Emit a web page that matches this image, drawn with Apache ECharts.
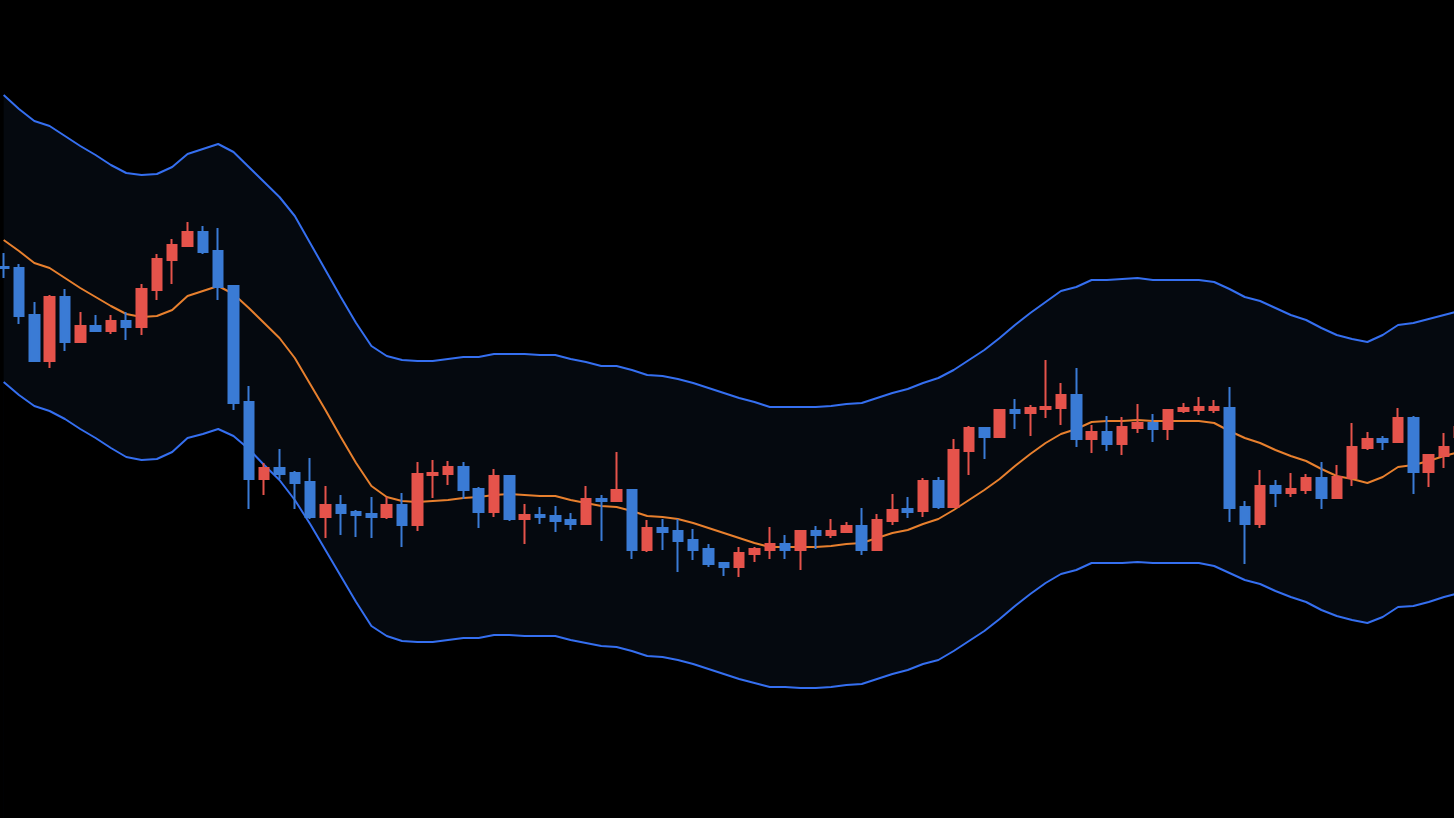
<!DOCTYPE html>
<html>
<head>
<meta charset="utf-8">
<script src="https://cdn.jsdelivr.net/npm/echarts@6/dist/echarts.min.js"></script>
<style>
html,body{margin:0;padding:0;background:#000;overflow:hidden;width:1454px;height:818px;}
#chart{position:absolute;left:-3.66px;top:0;width:1471px;height:818px;}
</style>
</head>
<body>
<div id="chart"></div>
<script>
// Candles: [open, close, low, high]
const candles = [
[55.1,55.0,54.0,56.5],[55.0,50.2,49.4,55.4],[50.3,45.7,45.7,51.6],[45.7,52.1,45.0,52.3],
[52.1,47.6,46.7,52.9],[47.6,49.2,47.6,50.6],[49.2,48.7,48.6,50.3],[48.7,49.7,48.4,50.3],
[49.7,49.1,47.8,50.6],[49.1,52.9,48.3,53.4],[52.8,55.9,51.8,56.4],[55.8,57.3,53.4,57.9],
[57.2,58.6,57.2,59.6],[58.6,56.6,56.4,59.2],[56.7,53.1,51.8,59.0],[53.2,41.5,40.8,53.3],
[41.6,33.9,30.9,43.2],[33.9,35.0,32.3,35.5],[35.0,34.4,33.9,36.9],[34.5,33.5,30.9,34.7],
[33.6,30.1,29.9,36.0],[30.1,31.3,28.0,33.2],[31.3,30.5,28.3,32.3],[30.6,30.3,28.1,30.8],
[30.4,30.1,28.0,32.1],[30.1,31.3,29.9,32.1],[31.3,29.3,27.1,32.5],[29.3,34.4,28.7,35.6],
[34.3,34.5,32.0,35.8],[34.4,35.1,33.3,35.7],[35.1,32.8,31.9,35.6],[32.9,30.6,29.0,33.1],
[30.6,34.2,30.1,34.9],[34.2,29.9,29.7,34.2],[29.9,30.3,27.4,31.4],[30.3,30.1,29.4,31.1],
[30.2,29.7,28.6,31.2],[29.8,29.4,28.8,30.5],[29.4,31.9,29.3,33.2],[31.9,31.7,27.7,32.3],
[31.7,32.8,31.6,36.6],[32.8,26.8,25.9,32.8],[26.8,29.0,26.6,29.8],[29.0,28.6,26.8,29.9],
[28.7,27.7,24.6,29.9],[27.8,26.8,25.8,28.9],[26.9,25.4,25.1,27.4],[25.5,25.1,24.2,25.5],
[25.1,26.5,24.1,27.1],[26.4,26.9,25.6,27.1],[26.8,27.4,25.9,29.1],[27.4,26.8,25.9,28.3],
[26.8,28.7,24.8,28.8],[28.7,28.3,26.9,29.2],[28.3,28.7,28.0,29.9],[28.6,29.2,28.5,29.6],
[29.2,26.8,26.3,31.0],[26.8,29.8,26.7,30.4],[29.7,30.8,29.3,32.4],[30.9,30.6,30.0,32.1],
[30.7,33.7,30.1,34.0],[33.7,31.1,30.9,34.1],[31.1,36.8,31.1,37.9],[36.7,39.0,34.3,39.2],
[39.0,38.1,35.9,39.0],[38.1,40.8,38.0,40.9],[40.8,40.5,38.9,41.9],[40.5,41.0,38.2,41.3],
[40.9,41.1,40.0,45.8],[41.0,42.3,39.3,43.5],[42.3,37.9,37.1,45.0],[37.9,38.6,36.5,39.3],
[38.6,37.4,36.7,40.2],[37.4,39.1,36.3,40.1],[39.0,39.5,38.5,41.4],[39.5,38.9,37.6,40.4],
[38.9,40.8,37.8,40.9],[40.7,41.0,40.5,41.5],[40.8,41.1,40.3,42.1],[40.8,41.1,40.5,41.8],
[41.0,31.0,29.6,43.1],[31.1,29.4,25.4,31.7],[29.4,33.2,29.0,34.8],[33.2,32.5,31.1,33.8],
[32.5,32.9,32.1,34.5],[32.8,34.0,32.4,34.4],[34.0,32.0,30.9,35.6],[32.0,34.1,32.0,35.3],
[34.0,37.1,33.2,39.5],[37.0,37.9,36.8,38.6],[37.9,37.6,36.8,38.2],[37.6,40.0,37.6,41.0],
[40.0,34.6,32.4,40.2],[34.6,36.3,33.1,36.3],[36.2,37.1,35.0,38.5],[38.1,39.1,37.8,39.8]
];
const upperBand = [72.3,70.9,69.7,69.2,68.2,67.2,66.3,65.3,64.5,64.3,64.4,65.1,66.4,66.9,67.4,66.6,
65.1,63.6,62.1,60.2,57.5,54.8,52.1,49.5,47.2,46.2,45.8,45.7,45.7,45.9,46.1,46.1,
46.4,46.4,46.4,46.3,46.3,45.9,45.6,45.2,45.2,44.8,44.3,44.2,43.9,43.5,43.0,42.5,
42.0,41.6,41.1,41.1,41.1,41.1,41.2,41.4,41.5,42.0,42.5,42.9,43.5,44.0,44.8,45.8,
46.8,48.0,49.3,50.5,51.6,52.7,53.1,53.8,53.8,53.9,54.0,53.8,53.8,53.8,53.8,53.6,
52.9,52.1,51.7,51.0,50.3,49.8,49.0,48.3,47.9,47.6,48.3,49.3,49.5,49.9,50.3,50.7];
const middleBand = [57.8,56.7,55.5,55.0,54.0,53.0,52.1,51.2,50.4,50.1,50.2,50.8,52.2,52.7,53.2,52.4,
51.0,49.5,48.0,46.0,43.4,40.8,38.1,35.5,33.2,32.1,31.7,31.6,31.7,31.8,32.0,32.1,
32.3,32.4,32.3,32.2,32.2,31.8,31.5,31.2,31.1,30.7,30.2,30.1,29.9,29.5,29.0,28.5,
28.0,27.5,27.1,27.1,27.1,27.1,27.2,27.4,27.5,28.0,28.5,28.8,29.4,29.9,30.8,31.8,
32.8,33.9,35.2,36.4,37.5,38.4,38.9,39.6,39.7,39.7,39.8,39.7,39.7,39.7,39.7,39.5,
38.7,38.0,37.5,36.8,36.2,35.7,34.9,34.2,33.9,33.5,34.1,35.1,35.3,35.7,36.2,36.6];
const lowerBand = [43.6,42.3,41.2,40.7,39.9,38.9,38.0,37.0,36.1,35.8,35.9,36.6,38.0,38.4,38.9,38.2,
36.9,35.3,33.8,31.8,29.4,26.8,24.2,21.6,19.2,18.2,17.7,17.6,17.6,17.8,18.0,18.0,
18.3,18.3,18.2,18.2,18.2,17.8,17.5,17.2,17.1,16.7,16.2,16.1,15.8,15.4,14.9,14.4,
13.9,13.5,13.1,13.1,13.0,13.0,13.1,13.3,13.4,13.9,14.4,14.8,15.4,15.8,16.7,17.7,
18.7,19.9,21.2,22.4,23.5,24.4,24.8,25.5,25.5,25.5,25.6,25.5,25.5,25.5,25.5,25.2,
24.5,23.8,23.4,22.7,22.1,21.6,20.8,20.2,19.8,19.5,20.1,21.1,21.2,21.6,22.1,22.5];
const categories = candles.map((_, i) => 'D' + (i + 1));

const UP = '#e5534b', DOWN = '#3a7bd5', BAND = '#356ff0', MID = '#e8802e';
const chart = echarts.init(document.getElementById('chart'), null, {renderer: 'canvas'});
chart.setOption({
  backgroundColor: '#000000',
  animation: false,
  grid: {left: 0, right: 0, top: 0, bottom: 0, containLabel: false},
  xAxis: {type: 'category', data: categories, boundaryGap: true, show: false},
  yAxis: {type: 'value', min: 0, max: 81.8, show: false, splitLine: {show: false}},
  series: [
    {name: 'Upper', type: 'line', data: upperBand, symbol: 'none', z: 1,
     lineStyle: {color: BAND, width: 2}, areaStyle: {color: '#05090f', origin: 'start', opacity: 1}},
    {name: 'Lower', type: 'line', data: lowerBand, symbol: 'none', z: 1,
     lineStyle: {color: BAND, width: 2}, areaStyle: {color: '#000000', origin: 'start', opacity: 1}},
    {name: 'Middle', type: 'line', data: middleBand, symbol: 'none', z: 2,
     lineStyle: {color: MID, width: 2}},
    {name: 'Price', type: 'candlestick', data: candles, z: 5, barWidth: 10,
     itemStyle: {color: UP, color0: DOWN, borderColor: UP, borderColor0: DOWN, borderWidth: 2}}
  ]
});
</script>
</body>
</html>
